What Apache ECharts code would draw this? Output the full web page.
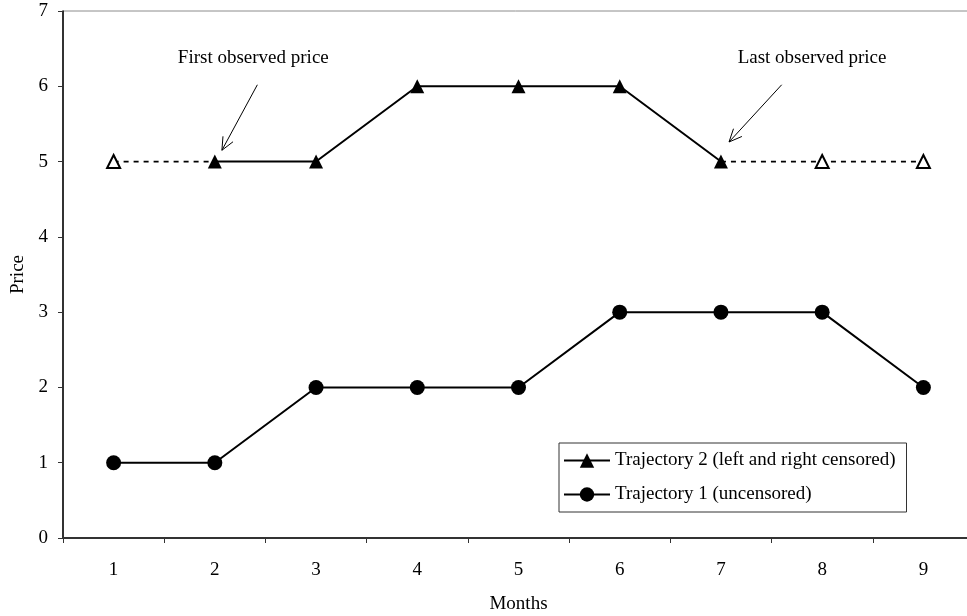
<!DOCTYPE html>
<html>
<head>
<meta charset="utf-8">
<script src="https://cdn.jsdelivr.net/npm/echarts@6/dist/echarts.min.js"></script>
<style>html,body{margin:0;padding:0;background:#fff}#c{width:967px;height:616px}</style>
</head>
<body>
<div id="c"></div>
<script>
const months = ['1','2','3','4','5','6','7','8','9'];
const traj2Observed = [null, 5, 5, 6, 6, 6, 5, null, null];
const traj2Censored = [5, 5, null, null, null, null, 5, 5, 5];
const traj2CensoredHollow = [true, false, false, false, false, false, false, true, true];
const traj1 = [1, 1, 2, 2, 2, 3, 3, 3, 2];
const yTicks = [0, 7, 1];
const nameT2 = 'Trajectory 2 (left and right censored)';
const nameT1 = 'Trajectory 1 (uncensored)';
const annotations = [
  {text: 'First observed price', label: [1.38, 6.37], from: [1.42, 6.02], to: [1.07, 5.15]},
  {text: 'Last observed price', label: [6.9, 6.37], from: [6.6, 6.02], to: [6.08, 5.26]}
];

const FONT = "'Liberation Serif','Times New Roman',serif";
const FS = 19;
const chart = echarts.init(document.getElementById('c'));

const censoredData = traj2Censored.map((v, i) => {
  if (v === null) return null;
  return traj2CensoredHollow[i] ? {value: v} : {value: v, symbol: 'none'};
});

chart.setOption({
  animation: false,
  backgroundColor: '#fff',
  textStyle: {fontFamily: FONT, color: '#000'},
  grid: {left: 63, top: 11, width: 911, height: 527, containLabel: false, outerBoundsMode: 'none',
    show: true, borderColor: '#8c8c8c', borderWidth: 1, backgroundColor: 'transparent'},
  legend: {
    orient: 'vertical', left: 559, top: 443,
    data: [nameT2, nameT1],
    itemWidth: 46, itemHeight: 18, itemGap: 15,
    padding: [8, 11, 8, 4],
    borderColor: '#333', borderWidth: 1,
    textStyle: {fontFamily: FONT, fontSize: FS, color: '#000'},
    inactiveColor: '#000'
  },
  xAxis: {
    type: 'category', data: months, boundaryGap: true,
    name: 'Months', nameLocation: 'middle', nameGap: 57,
    nameTextStyle: {fontFamily: FONT, fontSize: FS, color: '#000'},
    axisLine: {lineStyle: {color: '#333', width: 2}},
    axisTick: {show: true, length: 5, lineStyle: {color: '#333', width: 1}},
    axisLabel: {fontFamily: FONT, fontSize: FS, color: '#000', margin: 23},
    splitLine: {show: false}
  },
  yAxis: {
    type: 'value', min: yTicks[0], max: yTicks[1], interval: yTicks[2],
    name: 'Price', nameLocation: 'middle', nameGap: 34,
    nameTextStyle: {fontFamily: FONT, fontSize: FS, color: '#000'},
    axisLine: {show: true, lineStyle: {color: '#000', width: 1.5}},
    axisTick: {show: true, length: 5, lineStyle: {color: '#333', width: 1}},
    axisLabel: {fontFamily: FONT, fontSize: FS, color: '#000', margin: 15},
    splitLine: {show: false}
  },
  series: [
    {
      name: 'censored', type: 'line', data: censoredData, connectNulls: false,
      symbol: 'triangle', symbolSize: 13,
      lineStyle: {color: '#000', width: 1.8, type: [5, 5]},
      itemStyle: {color: '#fff', borderColor: '#000', borderWidth: 2},
      z: 2
    },
    {
      name: nameT2, type: 'line', data: traj2Observed, connectNulls: false,
      symbol: 'triangle', symbolSize: 14,
      lineStyle: {color: '#000', width: 2},
      itemStyle: {color: '#000'},
      z: 3
    },
    {
      name: nameT1, type: 'line', data: traj1,
      symbol: 'circle', symbolSize: 15,
      lineStyle: {color: '#000', width: 2},
      itemStyle: {color: '#000'},
      z: 3
    }
  ]
});

// fractional category position -> pixel, via the axes' own scales
function toPx(pt) {
  const i0 = Math.floor(pt[0]), i1 = i0 + 1, f = pt[0] - i0;
  const a = chart.convertToPixel({gridIndex: 0}, [i0, pt[1]]);
  const b = chart.convertToPixel({gridIndex: 0}, [i1, pt[1]]);
  return [a[0] + (b[0] - a[0]) * f, a[1]];
}

function drawAnnotations() {
  const els = [];
  annotations.forEach(a => {
    const lp = toPx(a.label);
    const p0 = toPx(a.from);
    const p1 = toPx(a.to);
    els.push({type: 'text', x: lp[0], y: lp[1], z: 10,
      style: {text: a.text, font: FS + "px " + FONT, fill: '#000', align: 'center', verticalAlign: 'middle'}});
    els.push({type: 'line', z: 10, shape: {x1: p0[0], y1: p0[1], x2: p1[0], y2: p1[1]},
      style: {stroke: '#000', lineWidth: 1}});
    const ang = Math.atan2(p1[1] - p0[1], p1[0] - p0[0]);
    const L = 14, spread = 0.42;
    const h1 = [p1[0] - L * Math.cos(ang - spread), p1[1] - L * Math.sin(ang - spread)];
    const h2 = [p1[0] - L * Math.cos(ang + spread), p1[1] - L * Math.sin(ang + spread)];
    els.push({type: 'polyline', z: 10, shape: {points: [h1, p1, h2]},
      style: {stroke: '#000', lineWidth: 1, fill: null}});
  });
  chart.setOption({graphic: els});
}
drawAnnotations();
</script>
</body>
</html>
